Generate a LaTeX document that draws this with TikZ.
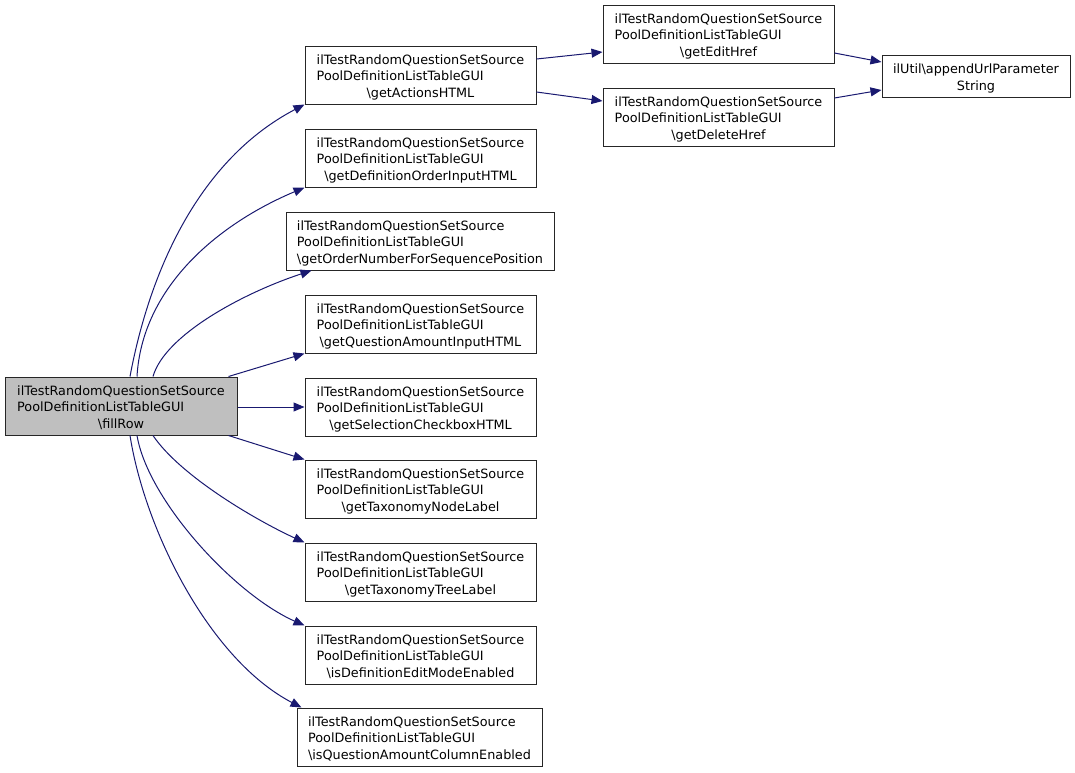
\documentclass[tikz,border=0pt]{standalone}
\usepackage{fontspec}
\setmainfont{DejaVu Sans}
\usetikzlibrary{arrows.meta,calc}
\definecolor{edgeblue}{HTML}{191970}
\definecolor{rootgray}{HTML}{BFBFBF}
\newcommand{\tri}[3]{\raisebox{-2.5pt}[\height][\depth]{\begin{tabular}{@{}l@{}}#1\\#2\\\multicolumn{1}{@{}c@{}}{#3}\end{tabular}}}
\newcommand{\cls}{ilTestRandomQuestionSetSource}
\newcommand{\gui}{PoolDefinitionListTableGUI}
\newcommand{\bs}{\textbackslash}
\begin{document}
\begin{tikzpicture}[x=1pt,y=-1pt,
  fn/.style={draw=black!85, line width=1pt, fill=white, inner sep=0pt,
    minimum width=231pt, minimum height=58pt,
    font=\fontsize{12.8}{16.5}\selectfont},
  edge/.style={draw=edgeblue, line width=1pt,
    -{Triangle[length=11pt,width=9pt]}, fill=none}]
\useasboundingbox (0,0) rectangle (1075,772);
\node[fn, fill=rootgray, minimum width=232pt] (fillRow) at (121,406) {\tri{\cls}{\gui}{\bs fillRow}};
\node[fn] (actions) at (420.5,75) {\tri{\cls}{\gui}{\bs getActionsHTML}};
\node[fn] (defOrder) at (420.5,158) {\tri{\cls}{\gui}{\bs getDefinitionOrderInputHTML}};
\node[fn, minimum width=268pt] (orderNum) at (420,241) {\tri{\cls}{\gui}{\bs getOrderNumberForSequencePosition}};
\node[fn] (qAmount) at (420.5,324) {\tri{\cls}{\gui}{\bs getQuestionAmountInputHTML}};
\node[fn] (selection) at (420.5,407) {\tri{\cls}{\gui}{\bs getSelectionCheckboxHTML}};
\node[fn] (taxNode) at (420.5,489) {\tri{\cls}{\gui}{\bs getTaxonomyNodeLabel}};
\node[fn] (taxTree) at (420.5,572) {\tri{\cls}{\gui}{\bs getTaxonomyTreeLabel}};
\node[fn] (isDefEdit) at (420.5,655) {\tri{\cls}{\gui}{\bs isDefinitionEditModeEnabled}};
\node[fn, minimum width=245pt] (isQAmount) at (419.5,737) {\tri{\cls}{\gui}{\bs isQuestionAmountColumnEnabled}};
\node[fn] (editHref) at (718.5,34) {\tri{\cls}{\gui}{\bs getEditHref}};
\node[fn] (deleteHref) at (718.5,117) {\tri{\cls}{\gui}{\bs getDeleteHref}};
\node[fn, minimum width=188pt, minimum height=42pt] (appendUrl) at (976,76)
  {\raisebox{-2.5pt}[\height][\depth]{\begin{tabular}{@{}c@{}}ilUtil\bs appendUrlParameter\\String\end{tabular}}};
% edges from fillRow
\draw[edge] ([xshift=9pt]fillRow.north) .. controls +(20,-107) and +(-105,55) .. (actions.south west);
\draw[edge] ([xshift=16pt]fillRow.north) .. controls +(5,-87) and +(-90,38) .. (defOrder.south west);
\draw[edge] ([xshift=32pt]fillRow.north) .. controls +(12,-42) and +(-67,22) .. ([xshift=26pt]orderNum.south west);
\draw[edge] ([xshift=-9pt]fillRow.north east) -- (qAmount.south west);
\draw[edge] ([yshift=-1pt]fillRow.east) -- ([yshift=-1pt]fillRow.east -| selection.west);
\draw[edge] ([xshift=-9pt]fillRow.south east) -- (taxNode.north west);
\draw[edge] ([xshift=32pt]fillRow.south) .. controls +(27,40) and +(-50,-23) .. (taxTree.north west);
\draw[edge] ([xshift=16pt]fillRow.south) .. controls +(11,65) and +(-70,-31) .. (isDefEdit.north west);
\draw[edge] ([xshift=9pt]fillRow.south) .. controls +(15,95) and +(-92,-48) .. ([xshift=5pt]isQAmount.north west);
% right part
\draw[edge] ([yshift=16pt]actions.east) -- ([yshift=-18pt]editHref.west);
\draw[edge] ([yshift=-17pt]actions.east) -- ([yshift=16pt]deleteHref.west);
\draw[edge] ([yshift=-19pt]editHref.east) -- ([yshift=14pt]appendUrl.west);
\draw[edge] ([yshift=19pt]deleteHref.east) -- ([yshift=-14pt]appendUrl.west);
\end{tikzpicture}
\end{document}
